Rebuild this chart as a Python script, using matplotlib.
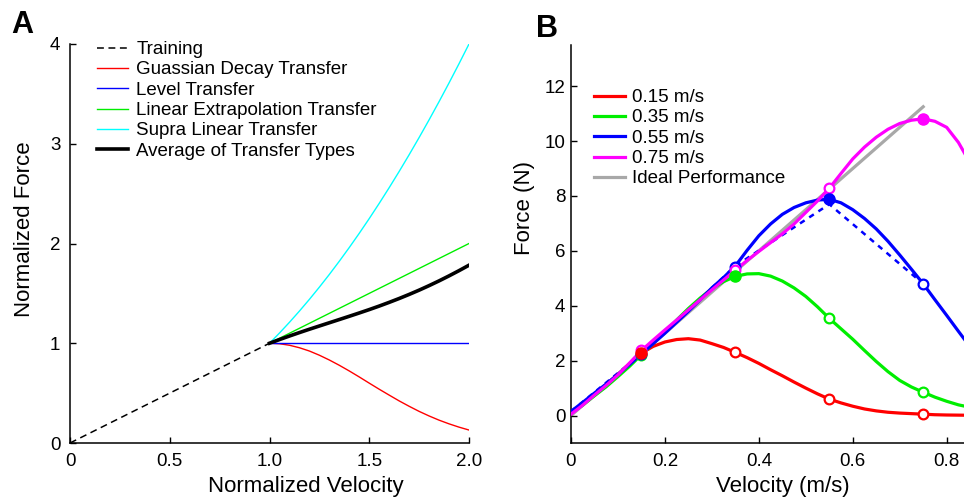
import numpy as np
import matplotlib
matplotlib.use("Agg")
import matplotlib.pyplot as plt
from matplotlib.lines import Line2D

plt.rcParams['font.family'] = ['Liberation Sans', 'DejaVu Sans']

# ---------------- Panel A data ----------------
vel_train = [0.0, 1.0]
force_train = [0.0, 1.0]
vel_a = [1.00, 1.05, 1.10, 1.15, 1.20, 1.25, 1.30, 1.35, 1.40, 1.45, 1.50,
         1.55, 1.60, 1.65, 1.70, 1.75, 1.80, 1.85, 1.90, 1.95, 2.00]
gauss_decay = [1.000, 0.995, 0.980, 0.955, 0.922, 0.880, 0.832, 0.779, 0.722, 0.662, 0.600,
               0.539, 0.480, 0.422, 0.368, 0.317, 0.271, 0.229, 0.192, 0.159, 0.130]
level = [1.0] * 21
linear_extrap = [1.00, 1.05, 1.10, 1.15, 1.20, 1.25, 1.30, 1.35, 1.40, 1.45, 1.50,
                 1.55, 1.60, 1.65, 1.70, 1.75, 1.80, 1.85, 1.90, 1.95, 2.00]
supra_linear = [1.0000, 1.1025, 1.2100, 1.3225, 1.4400, 1.5625, 1.6900, 1.8225, 1.9600, 2.1025, 2.2500,
                2.4025, 2.5600, 2.7225, 2.8900, 3.0625, 3.2400, 3.4225, 3.6100, 3.8025, 4.0000]
a_xticks = [0, 0.5, 1.0, 1.5, 2.0]
a_xticklabels = ['0', '0.5', '1.0', '1.5', '2.0']
a_yticks = [0, 1, 2, 3, 4]

# ---------------- Panel B data ----------------
vel_b = [0.000, 0.025, 0.050, 0.075, 0.100, 0.125, 0.150, 0.175, 0.200, 0.225,
         0.250, 0.275, 0.300, 0.325, 0.350, 0.375, 0.400, 0.425, 0.450, 0.475,
         0.500, 0.525, 0.550, 0.575, 0.600, 0.625, 0.650, 0.675, 0.700, 0.725,
         0.750, 0.775, 0.800, 0.825, 0.850]
force_015 = [0.10, 0.42, 0.78, 1.13, 1.50, 1.90, 2.27, 2.52, 2.68, 2.77,
             2.80, 2.75, 2.62, 2.48, 2.30, 2.11, 1.90, 1.67, 1.45, 1.22,
             1.00, 0.79, 0.60, 0.46, 0.34, 0.24, 0.17, 0.12, 0.09, 0.07,
             0.05, 0.03, 0.02, 0.015, 0.01]
force_035 = [0.08, 0.38, 0.72, 1.05, 1.42, 1.80, 2.22, 2.63, 3.05, 3.48,
             3.90, 4.28, 4.62, 4.88, 5.07, 5.16, 5.17, 5.08, 4.90, 4.65,
             4.34, 3.96, 3.54, 3.16, 2.78, 2.37, 1.97, 1.60, 1.28, 1.04,
             0.85, 0.67, 0.52, 0.39, 0.30]
force_055 = [0.15, 0.48, 0.82, 1.15, 1.50, 1.87, 2.25, 2.62, 3.00, 3.40,
             3.80, 4.22, 4.65, 5.03, 5.45, 6.02, 6.55, 6.98, 7.33, 7.58,
             7.75, 7.85, 7.88, 7.75, 7.50, 7.18, 6.80, 6.35, 5.85, 5.33,
             4.80, 4.22, 3.65, 3.07, 2.50]
force_075 = [0.05, 0.38, 0.75, 1.10, 1.48, 1.92, 2.37, 2.75, 3.12, 3.48,
             3.85, 4.22, 4.58, 4.94, 5.30, 5.65, 5.98, 6.30, 6.62, 6.98,
             7.40, 7.82, 8.28, 8.82, 9.35, 9.78, 10.14, 10.43, 10.64, 10.76,
             10.81, 10.72, 10.50, 9.95, 9.20]
marker_vel = [0.15, 0.35, 0.55, 0.75]
marker_015 = [2.27, 2.33, 0.60, 0.05]
marker_035 = [2.22, 5.07, 3.54, 0.85]
marker_055 = [2.25, 5.43, 7.88, 4.80]
marker_075 = [2.37, 5.30, 8.28, 10.81]
ideal_vel = [0.0, 0.75]
ideal_force = [0.0, 11.25]
dashed_vel = [0.0, 0.15, 0.35, 0.55, 0.75]
dashed_force = [0.15, 2.25, 5.45, 7.70, 4.80]
speed_labels = ['0.15 m/s', '0.35 m/s', '0.55 m/s', '0.75 m/s']
b_xticks = [0, 0.2, 0.4, 0.6, 0.8]
b_xticklabels = ['0', '0.2', '0.4', '0.6', '0.8']
b_yticks = [0, 2, 4, 6, 8, 10, 12]

W, H = 964, 499
fig = plt.figure(figsize=(W / 100, H / 100), dpi=100)

TICK_FS = 13.5
LABEL_FS = 16
LEG_FS = 13.5

def style_axes(ax, pad):
    for s in ['top', 'right']:
        ax.spines[s].set_visible(False)
    for s in ['left', 'bottom']:
        ax.spines[s].set_linewidth(1.1)
    ax.tick_params(direction='in', length=4, width=1.0, labelsize=TICK_FS, pad=pad)

# ---------------- Panel A ----------------
axA = fig.add_axes([70 / W, 56 / H, 399 / W, 399 / H])
axA.plot(vel_train, force_train, color='black', lw=1.1, ls=(0, (4.5, 3)), label='Training')
axA.plot(vel_a, gauss_decay, color='#FF0000', lw=1.0, label='Guassian Decay Transfer')
axA.plot(vel_a, level, color='#0000FF', lw=1.0, label='Level Transfer')
axA.plot(vel_a, linear_extrap, color='#00EE00', lw=1.0, label='Linear Extrapolation Transfer')
axA.plot(vel_a, supra_linear, color='#00FFFF', lw=1.0, label='Supra Linear Transfer')
avg = np.mean([gauss_decay, level, linear_extrap, supra_linear], axis=0)
axA.plot(vel_a, avg, color='black', lw=2.6, label='Average of Transfer Types')
axA.set_xlim(0, 2)
axA.set_ylim(0, 4)
axA.set_xticks(a_xticks)
axA.set_xticklabels(a_xticklabels)
axA.set_yticks(a_yticks)
style_axes(axA, 7)
axA.set_xlabel('Normalized Velocity', fontsize=LABEL_FS)
axA.xaxis.set_label_coords((306 - 70) / 399, (443 - 476) / 399)
axA.set_ylabel('Normalized Force', fontsize=LABEL_FS)
axA.yaxis.set_label_coords((35 - 70) / 399, (443 - 229) / 399)
axA.legend(loc='upper left', bbox_to_anchor=(97 / W, 1 - 41 / H),
           bbox_transform=fig.transFigure, frameon=False, fontsize=LEG_FS,
           handlelength=1.65, handletextpad=0.45, labelspacing=0.17,
           borderpad=0, borderaxespad=0)

# ---------------- Panel B ----------------
axB = fig.add_axes([571 / W, 56 / H, (W - 571) / W, 398 / H])
axB.plot(ideal_vel, ideal_force, color='#A8A8A8', lw=2.3, zorder=1)
axB.plot(dashed_vel, dashed_force, color='#0000FF', lw=1.8, ls=(0, (2.2, 2.2)), zorder=2)
colors = ['#FF0000', '#00EE00', '#0000FF', '#FF00FF']
forces = [force_015, force_035, force_055, force_075]
markers = [marker_015, marker_035, marker_055, marker_075]
for c, f, lab in zip(colors, forces, speed_labels):
    axB.plot(vel_b, f, color=c, lw=2.3, zorder=3, label=lab)
# open markers
for i, (c, m) in enumerate(zip(colors, markers)):
    for j, (v, y) in enumerate(zip(marker_vel, m)):
        if j != i:
            axB.plot([v], [y], 'o', ms=7, mfc='white', mec=c, mew=1.6, zorder=4)
# filled markers
for i, (c, m) in enumerate(zip(colors, markers)):
    axB.plot([marker_vel[i]], [m[i]], 'o', ms=8, mfc=c, mec=c, mew=1.0, zorder=5)
axB.set_xlim(0, (W - 571) / 469.6)
axB.set_ylim(-1, 13.5)
axB.set_xticks(b_xticks)
axB.set_xticklabels(b_xticklabels)
axB.set_yticks(b_yticks)
style_axes(axB, 4)
axB.tick_params(axis='x', pad=7)
axB.set_xlabel('Velocity (m/s)', fontsize=LABEL_FS)
axB.xaxis.set_label_coords((783 - 571) / (W - 571), (443 - 476) / 398)
axB.set_ylabel('Force (N)', fontsize=LABEL_FS)
axB.yaxis.set_label_coords((535 - 571) / (W - 571), (443 - 208) / 398)
handles = [Line2D([], [], color=c, lw=2.3) for c in colors] + \
          [Line2D([], [], color='#A8A8A8', lw=2.3)]
labels = speed_labels + ['Ideal Performance']
axB.legend(handles, labels, loc='upper left', bbox_to_anchor=(594 / W, 1 - 89 / H),
           bbox_transform=fig.transFigure, frameon=False, fontsize=LEG_FS,
           handlelength=1.65, handletextpad=0.35, labelspacing=0.17,
           borderpad=0, borderaxespad=0)

# panel letters
fig.text(11 / W, 1 - 33 / H, 'A', fontsize=22, fontweight='bold', va='baseline')
fig.text(536 / W, 1 - 37 / H, 'B', fontsize=22, fontweight='bold', va='baseline')

fig.savefig('out.png', dpi=100)
